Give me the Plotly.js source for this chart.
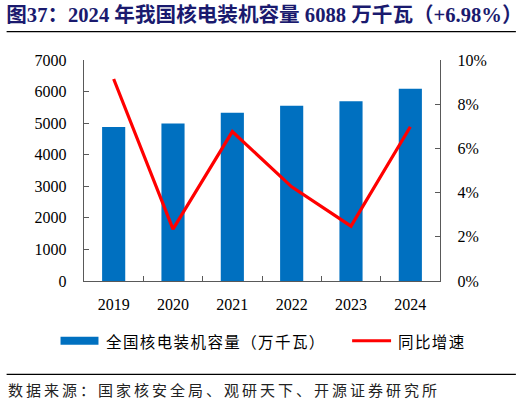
<!DOCTYPE html>
<html>
<head>
<meta charset="utf-8">
<script src="https://cdn.plot.ly/plotly-3.0.1.min.js"></script>
<style>
  html, body { margin: 0; padding: 0; background: #fff; }
  #chart { width: 522px; height: 405px; }
</style>
</head>
<body>
<div id="chart"></div>
<script>
// 数据
const years = ['2019', '2020', '2021', '2022', '2023', '2024'];
const capacity = [4875, 4989, 5326, 5553, 5691, 6088];   // 万千瓦
const growth = [0.0914, 0.0235, 0.0676, 0.0426, 0.0248, 0.0698];
const leftTicks = [0, 1000, 2000, 3000, 4000, 5000, 6000, 7000];
const rightTicks = [0, 0.02, 0.04, 0.06, 0.08, 0.10];
const rightLabels = ['0%', '2%', '4%', '6%', '8%', '10%'];

const serif = 'Liberation Serif, Noto Sans CJK SC, serif';
const cjk = 'Noto Sans CJK SC, sans-serif';
const axisColor = '#595959';

// 像素 -> paper 坐标
const plotL = 83.5, plotR = 440, plotT = 59.5, plotB = 281;
const px = x => (x - plotL) / (plotR - plotL);
const py = y => (plotB - y) / (plotB - plotT);

let traces = [
  {
    type: 'bar',
    x: years,
    y: capacity,
    name: '全国核电装机容量（万千瓦）',
    marker: { color: '#0070C0' },
    showlegend: false,
    hoverinfo: 'none',
  },
  {
    type: 'scatter',
    mode: 'lines',
    x: years,
    y: growth,
    yaxis: 'y2',
    name: '同比增速',
    line: { color: '#FF0000', width: 3.2 },
    showlegend: false,
    hoverinfo: 'none',
  },
];

let layout = {
  width: 522,
  height: 405,
  margin: { l: plotL, r: 522 - plotR, t: plotT, b: 405 - plotB },
  paper_bgcolor: '#fff',
  plot_bgcolor: '#fff',
  bargap: 0.61,
  title: {
    text: '<b>图37：2024 年我国核电装机容量 6088 万千瓦（+6.98%）</b>',
    font: { family: serif, size: 20.6, color: '#1A1A6E' },
    x: 0.012, xanchor: 'left',
    y: 1 - 15 / 405, yanchor: 'middle',
  },
  xaxis: {
    type: 'category',
    showline: true,
    linecolor: axisColor,
    linewidth: 1.3,
    showgrid: false,
    ticks: 'inside',
    ticklen: 5,
    tickcolor: axisColor,
    tickson: 'boundaries',
    tickfont: { family: serif, size: 16, color: '#000' },
    ticklabelstandoff: 8,
    fixedrange: true,
  },
  yaxis: {
    range: [0, 7000],
    tickvals: leftTicks,
    showline: true,
    linecolor: axisColor,
    linewidth: 1.3,
    showgrid: false,
    zeroline: false,
    ticks: 'inside',
    ticklen: 5,
    tickcolor: axisColor,
    tickfont: { family: serif, size: 16, color: '#000' },
    ticklabelstandoff: 13,
    fixedrange: true,
  },
  yaxis2: {
    overlaying: 'y',
    side: 'right',
    range: [0, 0.10],
    tickvals: rightTicks,
    ticktext: rightLabels,
    showline: true,
    linecolor: axisColor,
    linewidth: 1.3,
    showgrid: false,
    zeroline: false,
    ticks: 'inside',
    ticklen: 5,
    tickcolor: axisColor,
    tickfont: { family: serif, size: 16, color: '#000' },
    ticklabelstandoff: 13,
    fixedrange: true,
  },
  shapes: [
    // 标题下划线
    { type: 'line', xref: 'paper', yref: 'paper', x0: px(6), x1: px(516), y0: py(31), y1: py(31),
      line: { color: '#000', width: 1.2 } },
    // 底部分隔线
    { type: 'line', xref: 'paper', yref: 'paper', x0: px(6), x1: px(516), y0: py(374.5), y1: py(374.5),
      line: { color: '#000', width: 1.2 } },
    // 图例：柱
    { type: 'rect', xref: 'paper', yref: 'paper', x0: px(60), x1: px(98), y0: py(345), y1: py(337),
      fillcolor: '#0070C0', line: { width: 0 } },
    // 图例：线
    { type: 'line', xref: 'paper', yref: 'paper', x0: px(352), x1: px(391), y0: py(341), y1: py(341),
      line: { color: '#FF0000', width: 3 } },
  ],
  annotations: [
    { xref: 'paper', yref: 'paper', x: px(104), y: py(341), xanchor: 'left', yanchor: 'middle',
      text: '<span style="letter-spacing:1.4px">全国核电装机容量（万千瓦）</span>', showarrow: false,
      font: { family: cjk, size: 15.5, color: '#000' } },
    { xref: 'paper', yref: 'paper', x: px(396), y: py(341), xanchor: 'left', yanchor: 'middle',
      text: '<span style="letter-spacing:1.4px">同比增速</span>', showarrow: false,
      font: { family: cjk, size: 15.5, color: '#000' } },
    { xref: 'paper', yref: 'paper', x: px(5), y: py(390), xanchor: 'left', yanchor: 'middle',
      text: '<span style="letter-spacing:3px">数据来源：国家核安全局、观研天下、开源证券研究所</span>', showarrow: false,
      font: { family: cjk, size: 15, color: '#222' } },
  ],
  showlegend: false,
  hovermode: false,
};

let config = { displayModeBar: false, staticPlot: true };

Plotly.newPlot(document.getElementById('chart'), traces, layout, config);
</script>
</body>
</html>
